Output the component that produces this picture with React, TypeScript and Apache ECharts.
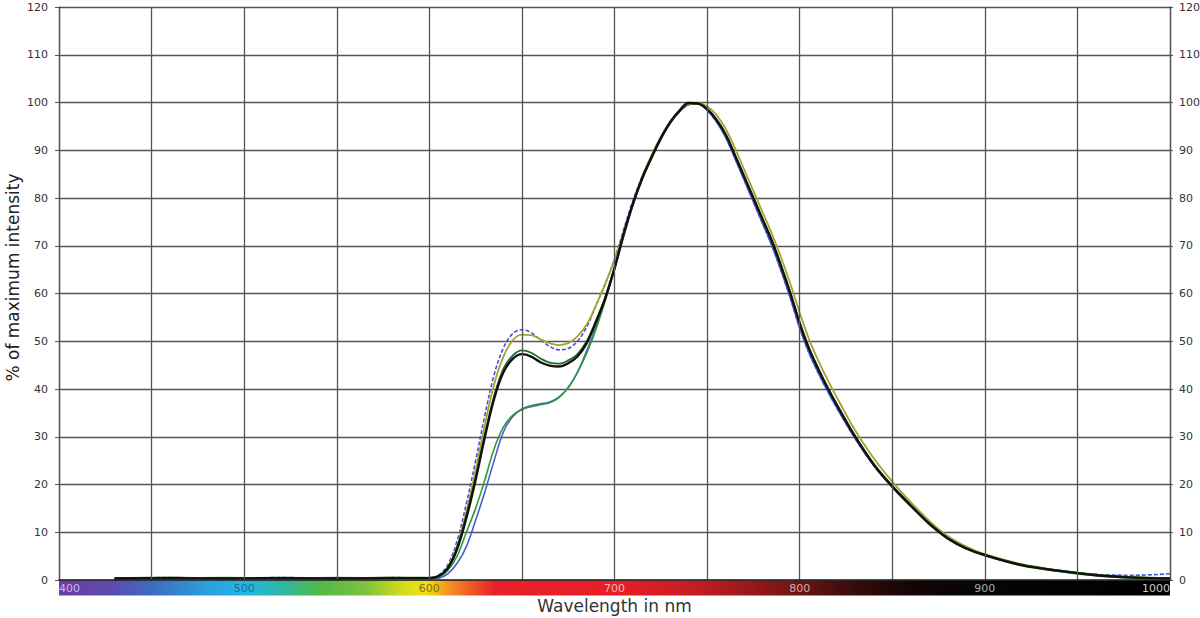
import React, { useEffect, useRef } from "react";
import * as echarts from "echarts";

const wavelengths = [
  430, 460, 490, 520, 550, 580, 600,
  605, 610, 615, 620, 625, 630, 635, 640, 645, 650,
  655, 660, 665, 670, 675, 680, 685, 690, 695, 700,
  705, 710, 715, 720, 725, 730, 735, 740, 745, 750,
  755, 760, 765, 770, 775, 780, 785, 790, 795, 800,
  805, 810, 815, 820, 830, 840, 850, 860, 870, 880,
  890, 900, 920, 940, 960, 980, 1000,
];

const blackValues = [
  0.3, 0.4, 0.3, 0.4, 0.3, 0.4, 0.4,
  0.8, 2.5, 6.5, 13, 21, 30, 38, 43.5, 46.3, 47.3,
  46.8, 45.6, 44.9, 44.7, 45.4, 46.8, 49.6, 54, 59, 65.3,
  72.5, 78.9, 84.2, 88.5, 92.5, 95.8, 98.2, 99.9, 99.8, 98.6,
  96.4, 93.3, 89, 84.5, 80, 75.5, 71, 65.7, 60, 53.8,
  48.5, 44.2, 40.3, 36.7, 30, 24.2, 19.6, 15.6, 11.8, 8.7,
  6.6, 5.2, 3.1, 1.9, 1.0, 0.5, 0.3,
];

const darkGreenValues = [
  0.4, 0.5, 0.4, 0.5, 0.4, 0.5, 0.5,
  0.8, 2.5, 6.8, 13.5, 21.5, 30.5, 38.5, 44.2, 47, 48.1,
  47.6, 46.4, 45.5, 45.3, 46, 47.3, 50, 54.3, 59.2, 65.4,
  72.6, 79, 84.3, 88.6, 92.6, 95.9, 98.3, 99.9, 99.8, 98.7,
  96.5, 93.4, 89.1, 84.6, 80.1, 75.6, 71.1, 65.8, 60.1, 53.9,
  48.6, 44.3, 40.4, 36.8, 30.1, 24.3, 19.7, 15.7, 11.9, 8.8,
  6.7, 5.3, 3.2, 2.0, 1.1, 0.6, 0.4,
];

const oliveValues = [
  0.3, 0.5, 0.3, 0.4, 0.4, 0.5, 0.4,
  0.8, 2.7, 7.2, 14.3, 23, 32.5, 41, 46.8, 50.2, 51.4,
  51.3, 50.4, 49.6, 49.2, 49.6, 51, 53.5, 57.5, 62, 67,
  73, 79, 84.5, 89, 92.8, 96, 98.4, 99.7, 99.9, 99.2,
  97.4, 94.5, 90.5, 86, 81.5, 77, 72.5, 67.5, 62, 56,
  50.5, 46, 42, 38.3, 31.3, 25.5, 20.6, 16.3, 12.4, 9.2,
  7.0, 5.4, 3.3, 2.0, 1.1, 0.6, 0.3,
];

const blueDashedValues = [
  0.4, 0.5, 0.4, 0.5, 0.4, 0.5, 0.4,
  1, 3.2, 8.2, 16, 25, 34.5, 43, 48.6, 51.6, 52.4,
  51.8, 50.3, 48.9, 48.2, 48.5, 50, 53, 57.5, 62, 67.2,
  73.5, 79.5, 84.6, 88.8, 92.6, 95.8, 98.2, 99.6, 99.8, 98.4,
  96, 92.8, 88.4, 83.8, 79.2, 74.6, 70, 64.7, 59, 52.8,
  47.6, 43.4, 39.6, 36.1, 29.6, 24, 19.5, 15.5, 11.8, 8.8,
  6.7, 5.3, 3.2, 2.0, 1.2, 1.0, 1.3,
];

const greenValues = [
  0.3, 0.4, 0.5, 0.3, 0.5, 0.4, 0.4,
  0.6, 2, 5, 10, 15, 21, 27.5, 32, 34.5, 35.7,
  36.3, 36.7, 37.1, 38.2, 40.3, 43.5, 47.5, 52.5, 58.5, 65,
  72.3, 78.7, 84, 88.4, 92.4, 95.7, 98.1, 99.6, 99.8, 98.5,
  96.2, 93, 88.7, 84.2, 79.6, 75, 70.5, 65.2, 59.5, 53.3,
  48, 43.8, 39.9, 36.3, 29.7, 24, 19.4, 15.4, 11.6, 8.6,
  6.5, 5.1, 3.0, 1.8, 0.9, 0.5, 0.3,
];

const blueValues = [
  0.2, 0.3, 0.3, 0.4, 0.3, 0.3, 0.3,
  0.4, 1.3, 3.5, 7, 12.5, 18.5, 25, 31, 34.2, 35.8,
  36.5, 36.9, 37.3, 38.3, 40.3, 43.5, 48, 53, 58.8, 65,
  72, 78.5, 83.9, 88.3, 92.3, 95.6, 98, 99.5, 99.8, 98.4,
  96, 92.7, 88.3, 83.8, 79.2, 74.6, 70, 64.7, 59, 52.8,
  47.6, 43.4, 39.6, 36.1, 29.6, 24, 19.5, 15.5, 11.8, 8.8,
  6.6, 5.2, 3.1, 1.9, 1.0, 0.5, 0.4,
];

const yTicks = [0, 10, 20, 30, 40, 50, 60, 70, 80, 90, 100, 110, 120];
const xLabelValues = [400, 500, 600, 700, 800, 900, 1000];
const xLabelColors = ["#cdb6ec", "#1b6f8e", "#7d6c0c", "#f7b9b9", "#d2a9a9", "#a9a9a9", "#c9c9c9"];

const spectrumStops = [
  [400, "#6c3d9e"],
  [430, "#5a4caf"],
  [450, "#3c6cc0"],
  [480, "#2a9fdc"],
  [500, "#20b5e6"],
  [520, "#2eb7a6"],
  [540, "#4fb84a"],
  [565, "#7cc23c"],
  [585, "#d0dc1c"],
  [598, "#f2e012"],
  [608, "#f4a020"],
  [620, "#f06422"],
  [635, "#e82228"],
  [700, "#e81e26"],
  [740, "#c81d24"],
  [775, "#961818"],
  [800, "#6a1414"],
  [830, "#380b0b"],
  [860, "#140404"],
  [900, "#050505"],
  [1000, "#000000"],
];

const seriesDefs = [
  { name: "blue", values: blueValues, color: "#4a5cd4", width: 1.6, dashed: false },
  { name: "green", values: greenValues, color: "#2f9a36", width: 1.6, dashed: false },
  { name: "blueDashed", values: blueDashedValues, color: "#4254d8", width: 1.6, dashed: true },
  { name: "olive", values: oliveValues, color: "#a6a230", width: 1.8, dashed: false },
  { name: "darkGreen", values: darkGreenValues, color: "#1d6a2a", width: 1.8, dashed: false },
  { name: "black", values: blackValues, color: "#111111", width: 2.4, dashed: false },
];

const GRID = { left: 59, right: 30, top: 7, bottom: 38 };
const W = 1200;
const H = 618;

export default function App() {
  const ref = useRef<HTMLDivElement>(null);
  useEffect(() => {
    document.body.style.margin = "0";
    if (!ref.current) return;
    const chart = echarts.init(ref.current, undefined, { renderer: "svg" });
    const plotW = W - GRID.left - GRID.right;
    const xMin = 400;
    const xMax = 1000;
    const gradient = new echarts.graphic.LinearGradient(
      0, 0, 1, 0,
      spectrumStops.map(([nm, c]) => ({ offset: ((nm as number) - xMin) / (xMax - xMin), color: c as string }))
    );
    const font = "DejaVu Sans";
    const option: any = {
      animation: false,
      backgroundColor: "#ffffff",
      grid: { ...GRID, containLabel: false, outerBoundsMode: "none" },
      graphic: [
        {
          type: "rect",
          z: 1,
          shape: { x: GRID.left, y: H - GRID.bottom + 0.5, width: plotW, height: 15 },
          style: { fill: gradient },
          silent: true,
        },
      ],
      xAxis: {
        type: "value",
        min: xMin,
        max: xMax,
        interval: 50,
        z: 10,
        name: "Wavelength in nm",
        nameLocation: "middle",
        nameGap: 17,
        nameMoveOverlap: false,
        nameTextStyle: { fontFamily: font, fontSize: 17, color: "#333333" },
        axisLine: { show: true, lineStyle: { color: "#222", width: 1.5 } },
        axisTick: { show: false },
        axisLabel: {
          margin: 3,
          fontFamily: font,
          fontSize: 11,
          alignMinLabel: "left",
          alignMaxLabel: "right",
          showMinLabel: true,
          showMaxLabel: true,
          formatter: (v: number) => (xLabelValues.includes(v) ? String(v) : ""),
          color: (v: any) => {
            const i = xLabelValues.indexOf(Number(v));
            return i >= 0 ? xLabelColors[i] : "#000";
          },
        },
        splitLine: { show: true, lineStyle: { color: "#555555", width: 1.3 } },
      },
      yAxis: [
        {
          type: "value",
          min: yTicks[0],
          max: yTicks[yTicks.length - 1],
          interval: 10,
          position: "left",
          name: "% of maximum intensity",
          nameLocation: "middle",
          nameGap: 38,
          nameMoveOverlap: false,
          nameTextStyle: { fontFamily: font, fontSize: 17, color: "#222222", padding: [0, 0, 0, 32] },
          axisLine: { show: true, lineStyle: { color: "#555", width: 1.3 } },
          axisTick: { show: true, length: 4, lineStyle: { color: "#555" } },
          axisLabel: { margin: 11, fontFamily: font, fontSize: 11, color: "#333" },
          splitLine: { show: true, lineStyle: { color: "#555555", width: 1.3 } },
        },
        {
          type: "value",
          min: yTicks[0],
          max: yTicks[yTicks.length - 1],
          interval: 10,
          position: "right",
          axisLine: { show: true, lineStyle: { color: "#555", width: 1.3 } },
          axisTick: { show: true, length: 3, lineStyle: { color: "#555" } },
          axisLabel: { margin: 9, fontFamily: font, fontSize: 11, color: "#333" },
          splitLine: { show: false },
        },
      ],
      series: seriesDefs.map((s) => ({
        name: s.name,
        type: "line",
        yAxisIndex: 0,
        showSymbol: false,
        smooth: 0.35,
        z: 3,
        data: wavelengths.map((w, i) => [w, s.values[i]]),
        lineStyle: { color: s.color, width: s.width, type: s.dashed ? [4, 2] : "solid" },
        itemStyle: { color: s.color },
      })),
    };
    chart.setOption(option);
    return () => chart.dispose();
  }, []);
  return <div ref={ref} style={{ width: W, height: H }} />;
}
